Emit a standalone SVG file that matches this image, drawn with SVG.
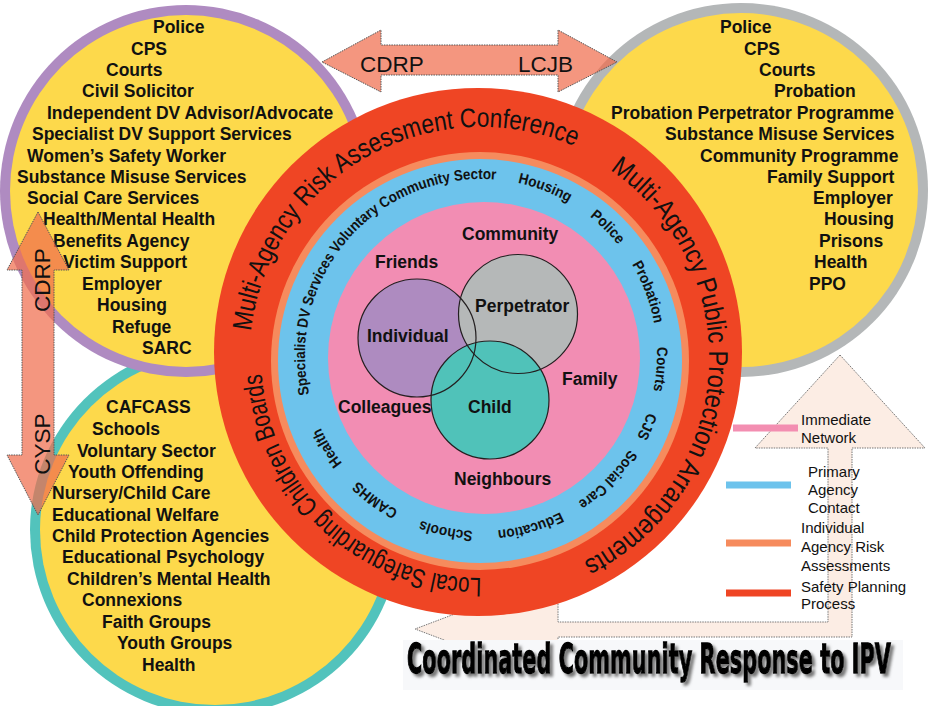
<svg xmlns="http://www.w3.org/2000/svg" width="928" height="706" viewBox="0 0 928 706">
<defs>
<style>
.b{font-family:"Liberation Sans",Arial,sans-serif;font-weight:bold;font-size:17.5px;fill:#111}
.r{font-family:"Liberation Sans",Arial,sans-serif;font-size:22.5px;fill:#111}
.rr{font-family:"Liberation Sans",Arial,sans-serif;font-size:27px;fill:#111}
.bt{font-family:"Liberation Sans",Arial,sans-serif;font-weight:bold;font-size:15px;fill:#111}
.lg{font-family:"Liberation Sans",Arial,sans-serif;font-size:15px;fill:#111}
.arr{fill:#F06E4D;fill-opacity:0.72;stroke:#555;stroke-width:1;stroke-dasharray:1.5 1}
.big{fill:#FCEDE4;stroke:#777;stroke-width:1;stroke-dasharray:1.5 1}
.venn{stroke:#231F20;stroke-width:1.2;fill:none}
</style>
<path id="pathA" d="M521.11,585.49 A231,231 0 1 1 440.89,130.51 A231,231 0 1 1 521.11,585.49"/>
<path id="pathB" d="M520.59,582.54 A228,228 0 1 1 441.41,133.46 A228,228 0 1 1 520.59,582.54"/>
<path id="pathC" d="M519.2,574.66 A220,220 0 1 1 442.8,141.34 A220,220 0 1 1 519.2,574.66"/>
<path id="bluePath" d="M315.6,415.2 A176,176 0 1 1 646.4,294.8 A176,176 0 1 1 315.6,415.2"/>
<filter id="sh" x="-5%" y="-30%" width="110%" height="170%">
<feGaussianBlur in="SourceAlpha" stdDeviation="1.6"/>
<feOffset dx="3" dy="3" result="o"/>
<feFlood flood-color="#777"/>
<feComposite in2="o" operator="in"/>
<feMerge><feMergeNode/><feMergeNode in="SourceGraphic"/></feMerge>
</filter>
</defs>
<rect width="928" height="706" fill="#fff"/>

<g id="lscb-circle">
<circle cx="215" cy="530" r="185" fill="#52C3BC"/>
<circle cx="215" cy="530" r="175" fill="#FDD94B"/>
<text class="b" x="106" y="413">CAFCASS</text>
<text class="b" x="92" y="435">Schools</text>
<text class="b" x="77" y="457">Voluntary Sector</text>
<text class="b" x="68" y="478">Youth Offending</text>
<text class="b" x="52" y="499">Nursery/Child Care</text>
<text class="b" x="52" y="521">Educational Welfare</text>
<text class="b" x="52" y="542">Child Protection Agencies</text>
<text class="b" x="62" y="563">Educational Psychology</text>
<text class="b" x="67" y="585">Children’s Mental Health</text>
<text class="b" x="82" y="606">Connexions</text>
<text class="b" x="102" y="628">Faith Groups</text>
<text class="b" x="117" y="649">Youth Groups</text>
<text class="b" x="142" y="671">Health</text>
</g>

<g id="marac-circle">
<circle cx="186" cy="191" r="186" fill="#AF8BC1"/>
<circle cx="186" cy="191" r="176" fill="#FDD94B"/>
<text class="b" x="153" y="33">Police</text>
<text class="b" x="131" y="55">CPS</text>
<text class="b" x="106" y="76">Courts</text>
<text class="b" x="82" y="97">Civil Solicitor</text>
<text class="b" x="47" y="119">Independent DV Advisor/Advocate</text>
<text class="b" x="32" y="140">Specialist DV Support Services</text>
<text class="b" x="27" y="162">Women’s Safety Worker</text>
<text class="b" x="17" y="183">Substance Misuse Services</text>
<text class="b" x="27" y="204">Social Care Services</text>
<text class="b" x="43" y="225">Health/Mental Health</text>
<text class="b" x="53" y="247">Benefits Agency</text>
<text class="b" x="63" y="268">Victim Support</text>
<text class="b" x="82" y="290">Employer</text>
<text class="b" x="97" y="311">Housing</text>
<text class="b" x="112" y="333">Refuge</text>
<text class="b" x="142" y="354">SARC</text>
</g>

<g id="mappa-circle">
<circle cx="741" cy="190" r="187" fill="#B4B7B8"/>
<circle cx="741" cy="190" r="177" fill="#FDD94B"/>
<text class="b" x="720" y="33">Police</text>
<text class="b" x="744" y="55">CPS</text>
<text class="b" x="759" y="76">Courts</text>
<text class="b" x="774" y="97">Probation</text>
<text class="b" x="611" y="119">Probation Perpetrator Programme</text>
<text class="b" x="665" y="140">Substance Misuse Services</text>
<text class="b" x="700" y="162">Community Programme</text>
<text class="b" x="767" y="183">Family Support</text>
<text class="b" x="813" y="204">Employer</text>
<text class="b" x="824" y="225">Housing</text>
<text class="b" x="819" y="247">Prisons</text>
<text class="b" x="814" y="268">Health</text>
<text class="b" x="809" y="290">PPO</text>
</g>

<g id="connectors">
<path id="ccr-arrow" class="big" d="M840,355 L925,448 L852,448 L852,637 L558,637 L558,683 L415,629 L558,575 L558,622 L828,622 L828,448 L755,448 Z"/>
</g>

<g id="title">
<rect x="403" y="640" width="500" height="50" fill="#F7F8FA"/>
<text x="407" y="673" textLength="484" lengthAdjust="spacingAndGlyphs" font-family="DejaVu Sans, sans-serif" font-weight="bold" font-size="41" fill="#000" stroke="#000" stroke-width="1.3" filter="url(#sh)">Coordinated Community Response to IPV</text>
</g>

<g id="rings">
<circle cx="478" cy="352" r="264" fill="#EF4524"/>
<circle cx="480" cy="361" r="209" fill="#F68B5D"/>
<circle cx="480" cy="361" r="202" fill="#6DC3EC"/>
<circle cx="484" cy="358" r="156" fill="#F28DB3"/>
<text class="rr"><textPath href="#pathA" startOffset="647.1" text-anchor="middle" textLength="433" lengthAdjust="spacingAndGlyphs">Multi-Agency Risk Assessment Conference</textPath></text>
<text class="rr"><textPath href="#pathB" startOffset="1129.4" text-anchor="middle" textLength="473" lengthAdjust="spacingAndGlyphs">Multi-Agency Public Protection Arrangements</textPath></text>
<text class="rr"><textPath href="#pathC" startOffset="203" text-anchor="middle" textLength="330" lengthAdjust="spacingAndGlyphs">Local Safeguarding Children Boards</textPath></text>
<text class="bt" text-anchor="middle"><textPath href="#bluePath" startOffset="187.4" textLength="331" lengthAdjust="spacingAndGlyphs">Specialist DV Services Voluntary Community Sector</textPath></text>
<text class="bt" text-anchor="middle"><textPath href="#bluePath" startOffset="402.1" textLength="54.6" lengthAdjust="spacingAndGlyphs">Housing</textPath></text>
<text class="bt" text-anchor="middle"><textPath href="#bluePath" startOffset="474.9" textLength="40.2" lengthAdjust="spacingAndGlyphs">Police</textPath></text>
<text class="bt" text-anchor="middle"><textPath href="#bluePath" startOffset="550.8" textLength="63.7" lengthAdjust="spacingAndGlyphs">Probation</textPath></text>
<text class="bt" text-anchor="middle"><textPath href="#bluePath" startOffset="628.2" textLength="44" lengthAdjust="spacingAndGlyphs">Courts</textPath></text>
<text class="bt" text-anchor="middle"><textPath href="#bluePath" startOffset="686" textLength="26.6" lengthAdjust="spacingAndGlyphs">CJS</textPath></text>
<text class="bt" text-anchor="middle"><textPath href="#bluePath" startOffset="751.1" textLength="74.3" lengthAdjust="spacingAndGlyphs">Social Care</textPath></text>
<text class="bt" text-anchor="middle"><textPath href="#bluePath" startOffset="841.1" textLength="66" lengthAdjust="spacingAndGlyphs">Education</textPath></text>
<text class="bt" text-anchor="middle"><textPath href="#bluePath" startOffset="925.3" textLength="53" lengthAdjust="spacingAndGlyphs">Schools</textPath></text>
<text class="bt" text-anchor="middle"><textPath href="#bluePath" startOffset="1001.5" textLength="50" lengthAdjust="spacingAndGlyphs">CAMHS</textPath></text>
<text class="bt" text-anchor="middle"><textPath href="#bluePath" startOffset="1071.2" textLength="41.7" lengthAdjust="spacingAndGlyphs">Health</textPath></text>
</g>

<g id="venn">
<circle cx="417" cy="338" r="59" fill="#AE8BC0"/>
<circle cx="518" cy="314" r="59.5" fill="#B5B8B8"/>
<circle cx="490" cy="400" r="59" fill="#50C2B9"/>
<circle class="venn" cx="417" cy="338" r="59"/>
<circle class="venn" cx="518" cy="314" r="59.5"/>
<circle class="venn" cx="490" cy="400" r="59"/>
<text class="b" x="462" y="240">Community</text>
<text class="b" x="375" y="268">Friends</text>
<text class="b" x="475" y="312">Perpetrator</text>
<text class="b" x="367" y="342">Individual</text>
<text class="b" x="562" y="385">Family</text>
<text class="b" x="338" y="413">Colleagues</text>
<text class="b" x="468" y="413">Child</text>
<text class="b" x="454" y="485">Neighbours</text>
</g>

<g id="partnership-arrows">
<path class="arr" d="M322,62 L381,30 L381,45 L558,45 L558,30 L617,62 L558,92 L558,75 L381,75 L381,92 Z"/>
<text class="r" x="360" y="72">CDRP</text>
<text class="r" x="518" y="72">LCJB</text>
<path class="arr" d="M38,212 L69,270 L54,270 L54,455 L69,455 L38,515 L7,455 L22,455 L22,270 L7,270 Z"/>
<text class="r" text-anchor="middle" transform="translate(50,280) rotate(-90)">CDRP</text>
<text class="r" text-anchor="middle" transform="translate(50,444) rotate(-90)">CYSP</text>
</g>

<g id="legend">
<rect x="733" y="424.5" width="65" height="7" fill="#F38EB1"/>
<rect x="726" y="481.5" width="65" height="7" fill="#6DC3EC"/>
<rect x="726" y="539.5" width="65" height="7" fill="#F68B5D"/>
<rect x="726" y="589.5" width="65" height="7" fill="#EF4524"/>
<text class="lg" x="801" y="425">Immediate</text>
<text class="lg" x="801" y="443">Network</text>
<text class="lg" x="808" y="477">Primary</text>
<text class="lg" x="808" y="495">Agency</text>
<text class="lg" x="808" y="513">Contact</text>
<text class="lg" x="801" y="533">Individual</text>
<text class="lg" x="801" y="552">Agency Risk</text>
<text class="lg" x="801" y="571">Assessments</text>
<text class="lg" x="801" y="592">Safety Planning</text>
<text class="lg" x="801" y="609">Process</text>
</g>
</svg>
